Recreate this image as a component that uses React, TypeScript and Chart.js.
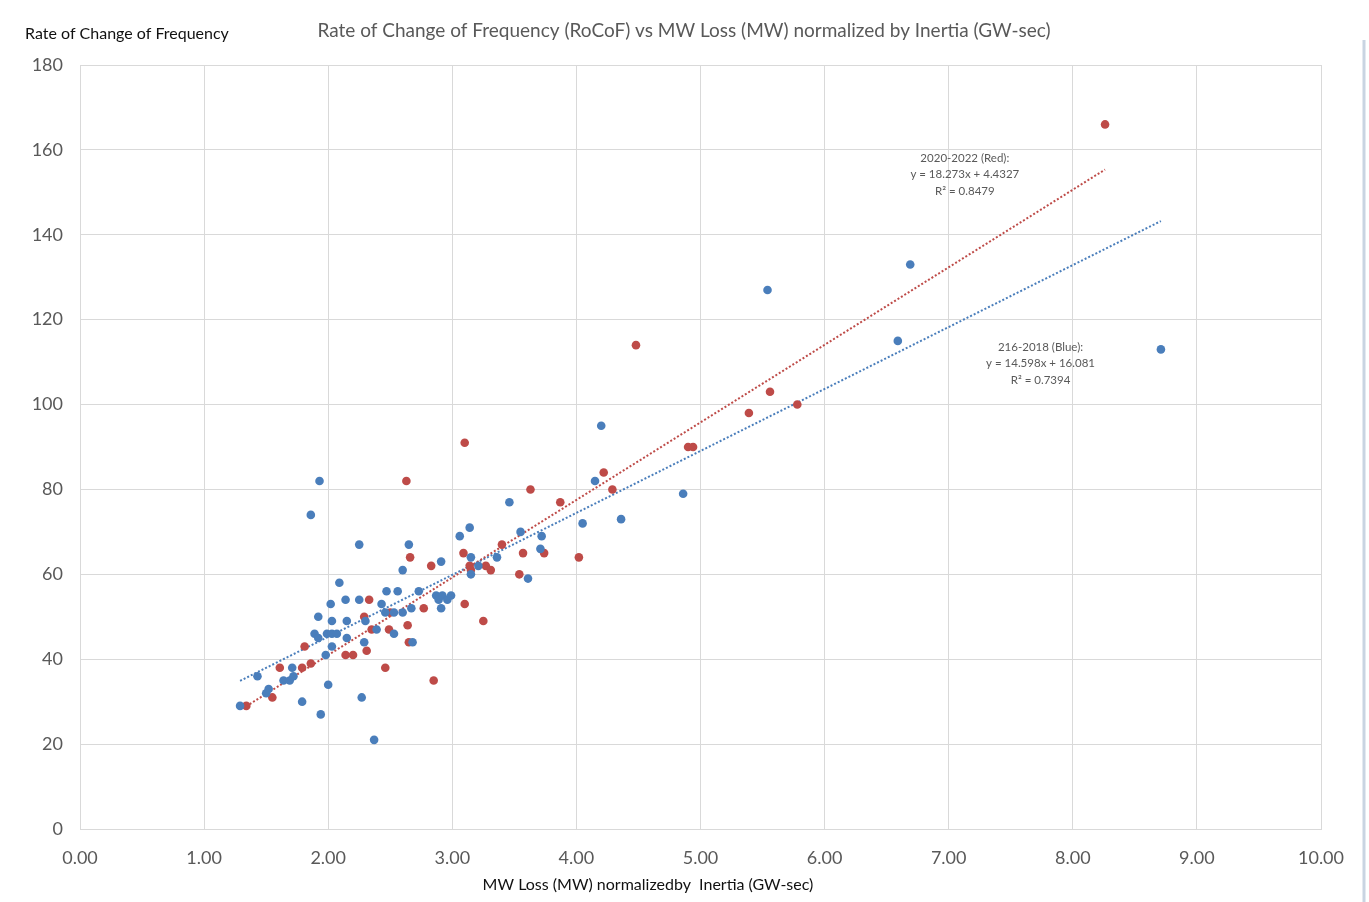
import React, { useEffect, useRef } from "react";
import { Chart, registerables } from "chart.js";

Chart.register(...registerables);

const blueX = [1.29, 1.43, 1.5, 1.52, 1.64, 1.69, 1.72, 1.71, 1.79, 1.86, 1.89, 1.92, 1.92, 1.93, 1.94, 1.98, 1.99, 2.0, 2.03, 2.03, 2.02, 2.03, 2.07, 2.09, 2.14, 2.15, 2.15, 2.25, 2.25, 2.27, 2.29, 2.3, 2.37, 2.39, 2.43, 2.46, 2.47, 2.53, 2.53, 2.56, 2.6, 2.6, 2.65, 2.67, 2.68, 2.73, 2.87, 2.89, 2.91, 2.91, 2.92, 2.96, 2.99, 3.06, 3.14, 3.15, 3.15, 3.21, 3.36, 3.46, 3.55, 3.61, 3.71, 3.72, 4.05, 4.15, 4.2, 4.36, 4.86, 5.54, 6.59, 6.69, 8.71];
const blueY = [29, 36, 32, 33, 35, 35, 36, 38, 30, 74, 46, 45, 50, 82, 27, 41, 46, 34, 46, 43, 53, 49, 46, 58, 54, 49, 45, 54, 67, 31, 44, 49, 21, 47, 53, 51, 56, 51, 46, 56, 51, 61, 67, 52, 44, 56, 55, 54, 63, 52, 55, 54, 55, 69, 71, 64, 60, 62, 64, 77, 70, 59, 66, 69, 72, 82, 95, 73, 79, 127, 115, 133, 113];

const redX = [1.34, 1.55, 1.61, 1.79, 1.81, 1.86, 2.14, 2.2, 2.29, 2.31, 2.33, 2.35, 2.46, 2.49, 2.5, 2.63, 2.64, 2.65, 2.66, 2.77, 2.83, 2.85, 3.09, 3.1, 3.1, 3.14, 3.15, 3.25, 3.27, 3.31, 3.4, 3.54, 3.57, 3.63, 3.74, 3.87, 4.02, 4.22, 4.29, 4.48, 4.9, 4.94, 5.39, 5.56, 5.78, 8.26];
const redY = [29, 31, 38, 38, 43, 39, 41, 41, 50, 42, 54, 47, 38, 47, 51, 82, 48, 44, 64, 52, 62, 35, 65, 91, 53, 62, 61, 49, 62, 61, 67, 60, 65, 80, 65, 77, 64, 84, 80, 114, 90, 90, 98, 103, 100, 166];

const redSlope = 18.273;
const redIntercept = 4.4327;
const blueSlope = 14.598;
const blueIntercept = 16.081;

const redLabel = ["2020-2022 (Red):", "y = 18.273x + 4.4327", "R² = 0.8479"];
const blueLabel = ["216-2018 (Blue):", "y = 14.598x + 16.081", "R² = 0.7394"];

const chartTitle = "Rate of Change of Frequency (RoCoF) vs MW Loss (MW) normalized by Inertia (GW-sec)";
const yTitle = "Rate of Change of Frequency";
const xTitle = "MW Loss (MW) normalizedby  Inertia (GW-sec)";

const BLUE = "#4a7ebb";
const RED = "#be4b48";
const FONT = "Lato, 'Open Sans', sans-serif";

function pts(xs: number[], ys: number[]) {
  return xs.map((x, i) => ({ x, y: ys[i] }));
}
function trend(xs: number[], m: number, b: number) {
  const lo = Math.min(...xs);
  const hi = Math.max(...xs);
  return [
    { x: lo, y: m * lo + b },
    { x: hi, y: m * hi + b },
  ];
}

const textPlugin = {
  id: "texts",
  afterDraw(chart: any) {
    const ctx = chart.ctx;
    const xs = chart.scales.x;
    const ys = chart.scales.y;
    ctx.save();
    ctx.textBaseline = "middle";
    ctx.fillStyle = "#595959";
    ctx.font = `19px ${FONT}`;
    ctx.textAlign = "center";
    ctx.fillText(chartTitle, 684, 31);
    ctx.fillStyle = "#111";
    ctx.font = `16px ${FONT}`;
    ctx.textAlign = "left";
    ctx.fillText(yTitle, 25, 34);
    ctx.textAlign = "center";
    ctx.fillText(xTitle, 648, 885);
    ctx.fillStyle = "#595959";
    ctx.font = `11.5px ${FONT}`;
    const rx = xs.getPixelForValue(7.13);
    const ry = ys.getPixelForValue(158.1);
    redLabel.forEach((t, i) => ctx.fillText(t, rx, ry + i * 16.5));
    const bx = xs.getPixelForValue(7.74);
    const by = ys.getPixelForValue(113.6);
    blueLabel.forEach((t, i) => ctx.fillText(t, bx, by + i * 16.5));
    ctx.strokeStyle = "#c9d4e2";
    ctx.lineWidth = 3;
    ctx.beginPath();
    ctx.moveTo(1364, 40);
    ctx.lineTo(1364, 902);
    ctx.stroke();
    ctx.restore();
  },
};

export default function App() {
  const ref = useRef<HTMLCanvasElement>(null);
  useEffect(() => {
    if (!ref.current) return;
    const chart = new Chart(ref.current, {
      type: "scatter",
      data: {
        datasets: [
          {
            label: "Blue",
            data: pts(blueX, blueY),
            backgroundColor: BLUE,
            borderColor: BLUE,
            pointRadius: 4.3,
            borderWidth: 0,
          },
          {
            label: "Red",
            data: pts(redX, redY),
            backgroundColor: RED,
            borderColor: RED,
            pointRadius: 4.3,
            borderWidth: 0,
          },
          {
            type: "line",
            label: "Red trend",
            data: trend(redX, redSlope, redIntercept),
            borderColor: RED,
            borderWidth: 2,
            borderDash: [2, 2],
            pointRadius: 0,
            fill: false,
          } as any,
          {
            type: "line",
            label: "Blue trend",
            data: trend(blueX, blueSlope, blueIntercept),
            borderColor: BLUE,
            borderWidth: 2,
            borderDash: [2, 2],
            pointRadius: 0,
            fill: false,
          } as any,
        ],
      },
      options: {
        animation: false,
        responsive: false,
        layout: { padding: { left: 0, top: 65, right: 48, bottom: 0 } },
        plugins: { legend: { display: false }, tooltip: { enabled: false }, title: { display: false } },
        scales: {
          x: {
            type: "linear",
            min: 0,
            max: 10,
            grid: { color: "#d9d9d9", drawTicks: false },
            border: { color: "#d9d9d9" },
            ticks: {
              stepSize: 1,
              padding: 18,
              color: "#595959",
              font: { family: FONT, size: 18 },
              callback: (v: any) => Number(v).toFixed(2),
            },
            afterFit: (s: any) => {
              s.height = 73;
            },
          },
          y: {
            type: "linear",
            min: 0,
            max: 180,
            grid: { color: "#d9d9d9", drawTicks: false },
            border: { color: "#d9d9d9" },
            ticks: {
              stepSize: 20,
              padding: 17,
              color: "#595959",
              font: { family: FONT, size: 18 },
            },
            afterFit: (s: any) => {
              s.width = 80;
            },
          },
        },
      },
      plugins: [textPlugin],
    });
    return () => chart.destroy();
  }, []);
  return (
    <div style={{ position: "absolute", left: 0, top: 0, width: 1369, height: 902, background: "#fff" }}>
      <canvas ref={ref} width={1369} height={902} />
    </div>
  );
}
